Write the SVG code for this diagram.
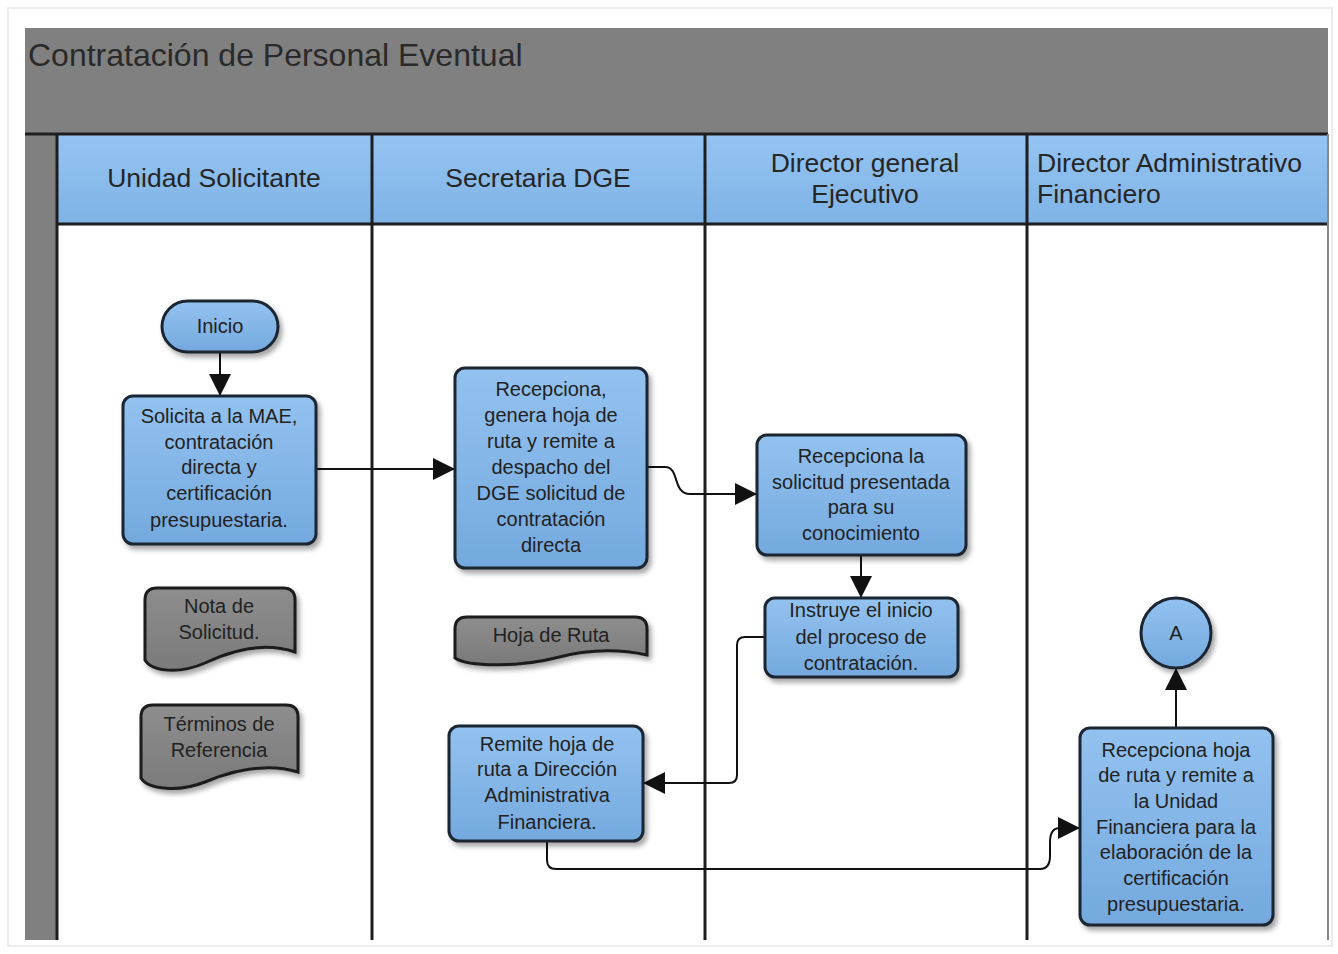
<svg xmlns="http://www.w3.org/2000/svg" width="1338" height="954" viewBox="0 0 1338 954">
<defs>
<linearGradient id="hdr" x1="0" y1="0" x2="0" y2="1"><stop offset="0" stop-color="#94c4f2"/><stop offset="1" stop-color="#7fb3e6"/></linearGradient>
<linearGradient id="box" x1="0" y1="0" x2="0" y2="1"><stop offset="0" stop-color="#93c2f0"/><stop offset="1" stop-color="#74a9de"/></linearGradient>
<linearGradient id="doc" x1="0" y1="0" x2="0" y2="1"><stop offset="0" stop-color="#8e8e8e"/><stop offset="1" stop-color="#7a7a7a"/></linearGradient>
<filter id="sh" x="-10%" y="-10%" width="130%" height="130%"><feDropShadow dx="3" dy="4" stdDeviation="2.5" flood-color="#000" flood-opacity="0.35"/></filter>
<marker id="arr" markerUnits="userSpaceOnUse" markerWidth="24" markerHeight="24" refX="22" refY="11" orient="auto"><path d="M0,0 L22,11 L0,22 Z" fill="#111"/></marker>
<style>
.lane{stroke:#1e1e1e;stroke-width:3;fill:none}
.hd{font-family:"Liberation Sans",Arial,sans-serif;font-size:26.5px;fill:#262626}
.bx{fill:url(#box);stroke:#1b2633;stroke-width:3;filter:url(#sh)}
.dc{fill:url(#doc);stroke:#1b1b1b;stroke-width:3;filter:url(#sh)}
.t{font-family:"Liberation Sans",Arial,sans-serif;font-size:20px;fill:#222;text-anchor:middle}
.cn{stroke:#111;stroke-width:2;fill:none}
</style>
</defs>
<rect width="1338" height="954" fill="#fff"/>
<rect x="8" y="8" width="1324" height="938" fill="none" stroke="#ececec" stroke-width="2"/>
<g id="pool">
<rect x="25" y="28" width="1303" height="106" fill="#808080"/>
<text x="28" y="66" font-family="Liberation Sans,Arial,sans-serif" font-size="32" fill="#2a2a2a">Contratación de Personal Eventual</text>
<rect x="25" y="134" width="32" height="806" fill="#808080"/>
<rect x="57" y="135" width="1271" height="89" fill="url(#hdr)"/>
<rect x="57" y="224" width="1271" height="716" fill="#fff"/>
<line class="lane" x1="25" y1="134" x2="1328" y2="134"/>
<line class="lane" x1="57" y1="224" x2="1328" y2="224"/>
<line class="lane" x1="57" y1="134" x2="57" y2="940"/>
<line class="lane" x1="372" y1="134" x2="372" y2="940"/>
<line class="lane" x1="705" y1="134" x2="705" y2="940"/>
<line class="lane" x1="1027" y1="134" x2="1027" y2="940"/>
<line x1="1328" y1="134" x2="1328" y2="940" stroke="#888" stroke-width="2"/>
<text class="hd" x="214" y="187" text-anchor="middle">Unidad Solicitante</text>
<text class="hd" x="538" y="187" text-anchor="middle">Secretaria DGE</text>
<text class="hd" x="865" y="172" text-anchor="middle">Director general</text>
<text class="hd" x="865" y="203" text-anchor="middle">Ejecutivo</text>
<text class="hd" x="1037" y="172">Director Administrativo</text>
<text class="hd" x="1037" y="203">Financiero</text>
</g>
<g id="connectors">
<path class="cn" d="M220,352 V396" marker-end="url(#arr)"/>
<path class="cn" d="M316,469 H455" marker-end="url(#arr)"/>
<path class="cn" d="M647,467 H665 C680,467 672,494 690,494 H757" marker-end="url(#arr)"/>
<path class="cn" d="M861,555 V598" marker-end="url(#arr)"/>
<path class="cn" d="M765,637 H745 Q737,637 737,645 V775 Q737,783 729,783 H643" marker-end="url(#arr)"/>
<path class="cn" d="M547,841 V860 Q547,869 556,869 H1040 Q1050,869 1050,856 V842 Q1050,828 1060,828 H1080" marker-end="url(#arr)"/>
<path class="cn" d="M1176,728 V668" marker-end="url(#arr)"/>
</g>
<g id="inicio">
<rect class="bx" x="162" y="301" width="116" height="51" rx="25.5"/>
<text class="t" x="220" y="333">Inicio</text>
</g>
<g id="solicita">
<rect class="bx" x="123" y="396" width="193" height="148" rx="10"/>
<text class="t" x="219" y="423">Solicita a la MAE,</text>
<text class="t" x="219" y="449">contratación</text>
<text class="t" x="219" y="474">directa y</text>
<text class="t" x="219" y="500">certificación</text>
<text class="t" x="219" y="527">presupuestaria.</text>
</g>
<g id="nota">
<path class="dc" d="M145,600 Q145,588 157,588 H283 Q295,588 295,600 V652 C265,642 232,650 205,663 C180,674 152,672 145,660 Z"/>
<text class="t" x="219" y="613">Nota de</text>
<text class="t" x="219" y="639">Solicitud.</text>
</g>
<g id="terminos">
<path class="dc" d="M141,717 Q141,705 153,705 H286 Q298,705 298,717 V772 C266,762 234,770 205,782 C180,792 148,790 141,778 Z"/>
<text class="t" x="219" y="731">Términos de</text>
<text class="t" x="219" y="757">Referencia</text>
</g>
<g id="recepciona">
<rect class="bx" x="455" y="368" width="192" height="200" rx="10"/>
<text class="t" x="551" y="396">Recepciona,</text>
<text class="t" x="551" y="422">genera hoja de</text>
<text class="t" x="551" y="448">ruta y remite a</text>
<text class="t" x="551" y="474">despacho del</text>
<text class="t" x="551" y="500">DGE solicitud de</text>
<text class="t" x="551" y="526">contratación</text>
<text class="t" x="551" y="552">directa</text>
</g>
<g id="hojaruta">
<path class="dc" d="M455,629 Q455,617 467,617 H635 Q647,617 647,629 V655 C615,648 585,650 555,658 C525,666 470,668 455,658 Z"/>
<text class="t" x="551" y="642">Hoja de Ruta</text>
</g>
<g id="recepcionala">
<rect class="bx" x="757" y="435" width="209" height="120" rx="10"/>
<text class="t" x="861" y="463">Recepciona la</text>
<text class="t" x="861" y="489">solicitud presentada</text>
<text class="t" x="861" y="514">para su</text>
<text class="t" x="861" y="540">conocimiento</text>
</g>
<g id="instruye">
<rect class="bx" x="765" y="598" width="193" height="79" rx="10"/>
<text class="t" x="861" y="617">Instruye el inicio</text>
<text class="t" x="861" y="644">del proceso de</text>
<text class="t" x="861" y="670">contratación.</text>
</g>
<g id="remite">
<rect class="bx" x="449" y="726" width="194" height="115" rx="10"/>
<text class="t" x="547" y="751">Remite hoja de</text>
<text class="t" x="547" y="776">ruta a Dirección</text>
<text class="t" x="547" y="802">Administrativa</text>
<text class="t" x="547" y="829">Financiera.</text>
</g>
<g id="recepcionahoja">
<rect class="bx" x="1080" y="728" width="193" height="197" rx="10"/>
<text class="t" x="1176" y="757">Recepciona hoja</text>
<text class="t" x="1176" y="782">de ruta y remite a</text>
<text class="t" x="1176" y="808">la Unidad</text>
<text class="t" x="1176" y="834">Financiera para la</text>
<text class="t" x="1176" y="859">elaboración de la</text>
<text class="t" x="1176" y="885">certificación</text>
<text class="t" x="1176" y="911">presupuestaria.</text>
</g>
<g id="conectorA">
<circle class="bx" cx="1176" cy="633" r="35"/>
<text class="t" x="1176" y="640">A</text>
</g>
</svg>
